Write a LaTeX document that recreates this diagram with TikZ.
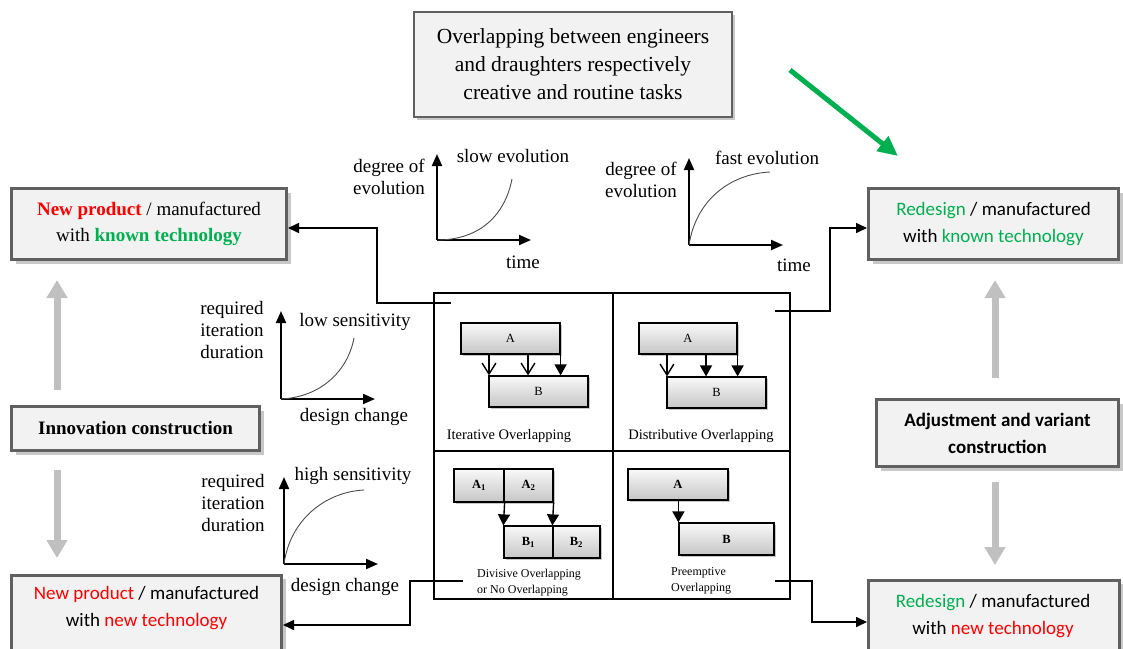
\documentclass[tikz,border=0pt]{standalone}
\usepackage{fontspec}
\setmainfont{Liberation Serif}
\newfontfamily\calfont{Carlito}
\usetikzlibrary{arrows.meta,shadows}
\definecolor{myred}{HTML}{FF0000}
\definecolor{mygreen}{HTML}{00B050}
\definecolor{boxfill}{HTML}{F2F2F2}
\definecolor{boxline}{HTML}{606060}
\definecolor{shadowc}{HTML}{C8C8C8}
\definecolor{garrow}{HTML}{C0C0C0}
\begin{document}
\begin{tikzpicture}[x=1pt,y=-1pt,
  bigbox/.style={draw=boxline, line width=3pt, fill=boxfill, drop shadow={shadow xshift=4pt, shadow yshift=-4pt, fill=shadowc, opacity=1}, inner sep=0pt, align=center},
  serifb/.style={font=\rmfamily\fontsize{19}{26}\selectfont},
  sansb/.style={font=\calfont\fontsize{19}{27}\selectfont},
  lab/.style={font=\rmfamily\fontsize{19}{22}\selectfont, align=center, inner sep=0pt},
  axis/.style={line width=2pt, -{Triangle[length=12pt,width=10pt]}},
  curve/.style={line width=0.9pt, gray!60!black},
  garr/.style={line width=7pt, garrow, -{Triangle[length=18pt,width=20pt]}},
  conn/.style={line width=1.6pt, -{Triangle[length=11pt,width=10pt]}},
  mbox/.style={draw, line width=1.2pt, top color=gray!5, bottom color=gray!45, drop shadow={shadow xshift=2pt,shadow yshift=-2pt,fill=gray!45, opacity=1}, inner sep=0pt, font=\rmfamily\fontsize{12.5}{14}\selectfont},
  oarr/.style={line width=1.4pt, -{Straight Barb[angle=64:13pt, line width=1.4pt]}},
  farr/.style={line width=1.4pt, -{Triangle[length=11pt,width=12pt]}},
  mlab/.style={inner sep=0pt, align=left, font=\rmfamily\fontsize{12}{16}\selectfont}
]
\useasboundingbox (0,0) rectangle (1123,648);
\clip (0,0) rectangle (1123,648);
\fill[white] (0,0) rectangle (1123,648);

% top box
\node[draw=boxline, line width=1.5pt, fill=boxfill, drop shadow={shadow xshift=3pt, shadow yshift=-3pt, fill=shadowc, opacity=1}, minimum width=318pt, minimum height=105pt, align=center, inner sep=0pt, font=\rmfamily\fontsize{21.5}{28}\selectfont] (top) at (573,64.5)
  {Overlapping between engineers\\and draughters respectively\\creative and routine tasks};

% green arrow
\coordinate (ga1) at (790,70);
\coordinate (ga2) at (898,156);
\draw[line width=5pt, mygreen, -{Triangle[length=20pt,width=18pt]}] (ga1) -- (ga2);

% outer boxes
\node[bigbox, serifb, minimum width=275pt, minimum height=71pt] (tl) at (149,224)
  {{\bfseries\color{myred}New product} / manufactured\\with {\bfseries\color{mygreen}known technology}};
\node[bigbox, sansb, minimum width=250pt, minimum height=71pt] (tr) at (993.5,224)
  {{\color{mygreen}Redesign} / manufactured\\with {\color{mygreen}known technology}};
\node[bigbox, minimum width=248pt, minimum height=44pt, font=\rmfamily\bfseries\fontsize{19}{26}\selectfont] (innov) at (135.5,428.5)
  {Innovation construction};
\node[bigbox, minimum width=242pt, minimum height=67pt, font=\calfont\bfseries\fontsize{19}{27}\selectfont] (adj) at (997.5,433)
  {Adjustment and variant\\construction};
\node[bigbox, minimum width=270pt, minimum height=100pt] (bl) at (146.5,625) {};
\node[sansb, align=center, inner sep=0pt] (blt) at (146.5,608.5)
  {{\color{myred}New product} / manufactured\\with {\color{myred}new technology}};
\node[bigbox, minimum width=251pt, minimum height=100pt] (br) at (994,630) {};
\node[sansb, align=center, inner sep=0pt] (brt) at (993,616.5)
  {{\color{mygreen}Redesign} / manufactured\\with {\color{myred}new technology}};

% gray arrows
\coordinate (g1a) at (57,390); \coordinate (g1b) at (57,280);
\coordinate (g2a) at (57,470); \coordinate (g2b) at (57,558);
\coordinate (g3a) at (995,378); \coordinate (g3b) at (995,280);
\coordinate (g4a) at (995,482); \coordinate (g4b) at (995,565);
\draw[garr] (g1a) -- (g1b);
\draw[garr] (g2a) -- (g2b);
\draw[garr] (g3a) -- (g3b);
\draw[garr] (g4a) -- (g4b);

% graph: slow evolution
\coordinate (o1) at (437,240);
\draw[axis] (o1) -- (437,154);
\draw[axis] (o1) -- (531,240);
\draw[curve] (o1) .. controls (480,240) and (505,215) .. (512,179);
\node[lab] (d1) at (389,177) {degree of\\evolution};
\node[lab] (t1a) at (513,156) {slow evolution};
\node[lab] (t1b) at (523,262) {time};

% graph: fast evolution
\coordinate (o2) at (689,245);
\draw[axis] (o2) -- (689,158);
\draw[axis] (o2) -- (783,245);
\draw[curve] (o2) .. controls (696,200) and (730,174) .. (770,172);
\node[lab] (d2) at (641,180) {degree of\\evolution};
\node[lab] (t2a) at (767,158) {fast evolution};
\node[lab] (t2b) at (794,265) {time};

% graph: low sensitivity
\coordinate (o3) at (281,399);
\draw[axis] (o3) -- (281,311);
\draw[axis] (o3) -- (375,399);
\draw[curve] (o3) .. controls (322,397) and (348,370) .. (354,338);
\node[lab] (r3) at (232,330) {required\\iteration\\duration};
\node[lab] (t3a) at (355,322) {low sensitivity};
\node[lab] (t3b) at (354,417) {design change};

% graph: high sensitivity
\coordinate (o4) at (284,564);
\draw[axis] (o4) -- (284,477);
\draw[axis] (o4) -- (378,564);
\draw[curve] (o4) .. controls (290,520) and (325,492) .. (364,490);
\node[lab] (r4) at (233,503) {required\\iteration\\duration};
\node[lab] (t4a) at (353,476) {high sensitivity};
\node[lab] (t4b) at (345,587) {design change};

% matrix frame
\draw[line width=1.5pt] (434,293) rectangle (790,599);
\draw[line width=1.2pt] (613,293) -- (613,599);
\draw[line width=1.2pt] (434,451) -- (790,451);

% quadrant 1: iterative
\node[mbox, minimum width=99pt, minimum height=31pt] (qa1) at (510.5,338.5) {A};
\node[mbox, minimum width=99pt, minimum height=31pt] (qb1) at (538.5,391.5) {B};
\coordinate (i1) at (489,354); \coordinate (i2) at (528,354);
\draw[oarr] (i1) -- (i1 |- qb1.north);
\draw[oarr] (i2) -- (i2 |- qb1.north);
\draw[farr] (qa1.south east) -- (qa1.south east |- qb1.north);
\node[inner sep=0pt, font=\rmfamily\fontsize{14.5}{16}\selectfont] (l1) at (509,436) {Iterative Overlapping};

% quadrant 2: distributive
\node[mbox, minimum width=98pt, minimum height=31pt] (qa2) at (688,338.5) {A};
\node[mbox, minimum width=99pt, minimum height=31pt] (qb2) at (716.5,392.5) {B};
\coordinate (j1) at (667,354); \coordinate (j2) at (706,354);
\draw[oarr] (j1) -- (j1 |- qb2.north);
\draw[farr] (j2) -- (j2 |- qb2.north);
\draw[farr] (qa2.south east) -- (qa2.south east |- qb2.north);
\node[inner sep=0pt, font=\rmfamily\fontsize{14.5}{16}\selectfont] (l2) at (701,436) {Distributive Overlapping};

% quadrant 3: divisive
\node[mbox, font=\rmfamily\bfseries\fontsize{12.5}{14}\selectfont, minimum width=50pt, minimum height=33pt] (qa3a) at (479,485.5) {A\textsubscript{1}};
\node[mbox, font=\rmfamily\bfseries\fontsize{12.5}{14}\selectfont, minimum width=49pt, minimum height=33pt] (qa3b) at (528.5,485.5) {A\textsubscript{2}};
\node[mbox, font=\rmfamily\bfseries\fontsize{12.5}{14}\selectfont, minimum width=49pt, minimum height=32pt] (qb3a) at (528.5,542) {B\textsubscript{1}};
\node[mbox, font=\rmfamily\bfseries\fontsize{12.5}{14}\selectfont, minimum width=47pt, minimum height=32pt] (qb3b) at (576.5,542) {B\textsubscript{2}};
\draw[farr] (qa3a.south east) -- (qb3a.north west);
\draw[farr] (qa3b.south east) -- (qb3b.north west);
\node[mlab, anchor=west] (l3) at (477,583) {Divisive Overlapping\\or No Overlapping};

% quadrant 4: preemptive
\node[mbox, font=\rmfamily\bfseries\fontsize{12.5}{14}\selectfont, minimum width=100pt, minimum height=31pt] (qa4) at (678,484.5) {A};
\node[mbox, font=\rmfamily\bfseries\fontsize{12.5}{14}\selectfont, minimum width=95pt, minimum height=32pt] (qb4) at (726.5,539) {B};
\draw[farr] (qb4.north west |- qa4.south) -- (qb4.north west);
\node[mlab, anchor=west] (l4) at (671,581) {Preemptive\\Overlapping};

% connectors
\coordinate (s1) at (451,303);
\draw[conn] (s1) -- (377,303) |- ([yshift=-4pt]tl.east);
\coordinate (s2) at (775,311);
\draw[conn] (s2) -- (830,311) |- ([yshift=-4pt]tr.west);
\coordinate (s3) at (463,581);
\draw[conn] (s3) -- (410,581) |- (bl.east);
\coordinate (s4) at (775,581);
\draw[conn] (s4) -- (812,581) |- ([yshift=8pt]br.west);
\end{tikzpicture}
\end{document}
